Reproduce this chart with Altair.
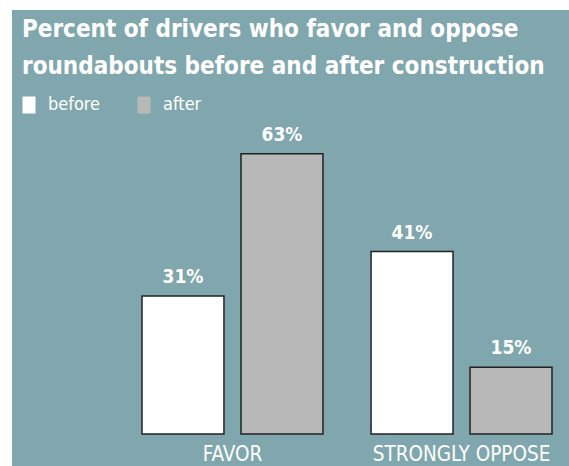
import altair as alt
import pandas as pd

categories = ["FAVOR", "FAVOR", "STRONGLY OPPOSE", "STRONGLY OPPOSE"]
series = ["before", "after", "before", "after"]
values = [31, 63, 41, 15]
series_order = ["before", "after"]
series_colors = ["#ffffff", "#b8b8b8"]
title_lines = ["Percent of drivers who favor and oppose",
               "roundabouts before and after construction"]

df = pd.DataFrame({"category": categories, "series": series, "value": values})
df["label"] = df["value"].astype(str) + "%"

FONT = "'Liberation Sans Narrow', 'Arial Narrow', 'DejaVu Sans Condensed', sans-serif"
TEAL = "#7fa7ad"

x_enc = alt.X("category:N", title=None,
              scale=alt.Scale(range=[130, 540], paddingInner=0.21, paddingOuter=0),
              axis=alt.Axis(domain=False, ticks=False, labelAngle=0, labelColor="white",
                            labelFont=FONT, labelFontSize=20.5, labelPadding=10,
                            labelLimit=400, labelFontWeight="normal", offset=-32))
xo_enc = alt.XOffset("series:N", sort=series_order,
                     scale=alt.Scale(paddingInner=0.172, paddingOuter=0))
y_enc = alt.Y("value:Q", title=None,
              scale=alt.Scale(domain=[0, 70], range=[424, 112.5]),
              axis=None)

bars = alt.Chart(df).mark_bar(stroke="#222222", strokeWidth=1.5).encode(
    x=x_enc, xOffset=xo_enc, y=y_enc,
    color=alt.Color("series:N", sort=series_order,
                    scale=alt.Scale(domain=series_order, range=series_colors),
                    legend=alt.Legend(title=None, orient="none", direction="horizontal",
                                      legendX=8, legendY=86,
                                      symbolType="M-0.765,-1H0.765V1H-0.765Z",
                                      symbolSize=289, symbolStrokeWidth=0,
                                      symbolOpacity=1,
                                      labelColor="white", labelFont=FONT,
                                      labelFontSize=18, labelOffset=10,
                                      columnPadding=34)),
)

labels = alt.Chart(df).mark_text(dy=-13, baseline="alphabetic", font=FONT,
                                 fontSize=19, fontWeight="bold", color="white").encode(
    x=x_enc, xOffset=xo_enc, y=y_enc, text="label:N"
)

chart = alt.layer(bars, labels).properties(
    width=557, height=456,
    autosize=alt.AutoSizeParams(type="none"),
    padding={"left": 12, "top": 10, "right": 0, "bottom": 0},
    background="white",
    title=alt.TitleParams(title_lines, anchor="start", font=FONT, fontSize=24,
                          fontWeight="bold", color="white", baseline="alphabetic",
                          lineHeight=37, offset=-88, dx=10),
).configure_view(fill=TEAL, stroke=None)

chart.save("out.html", embed_options={"renderer": "svg", "actions": False})
